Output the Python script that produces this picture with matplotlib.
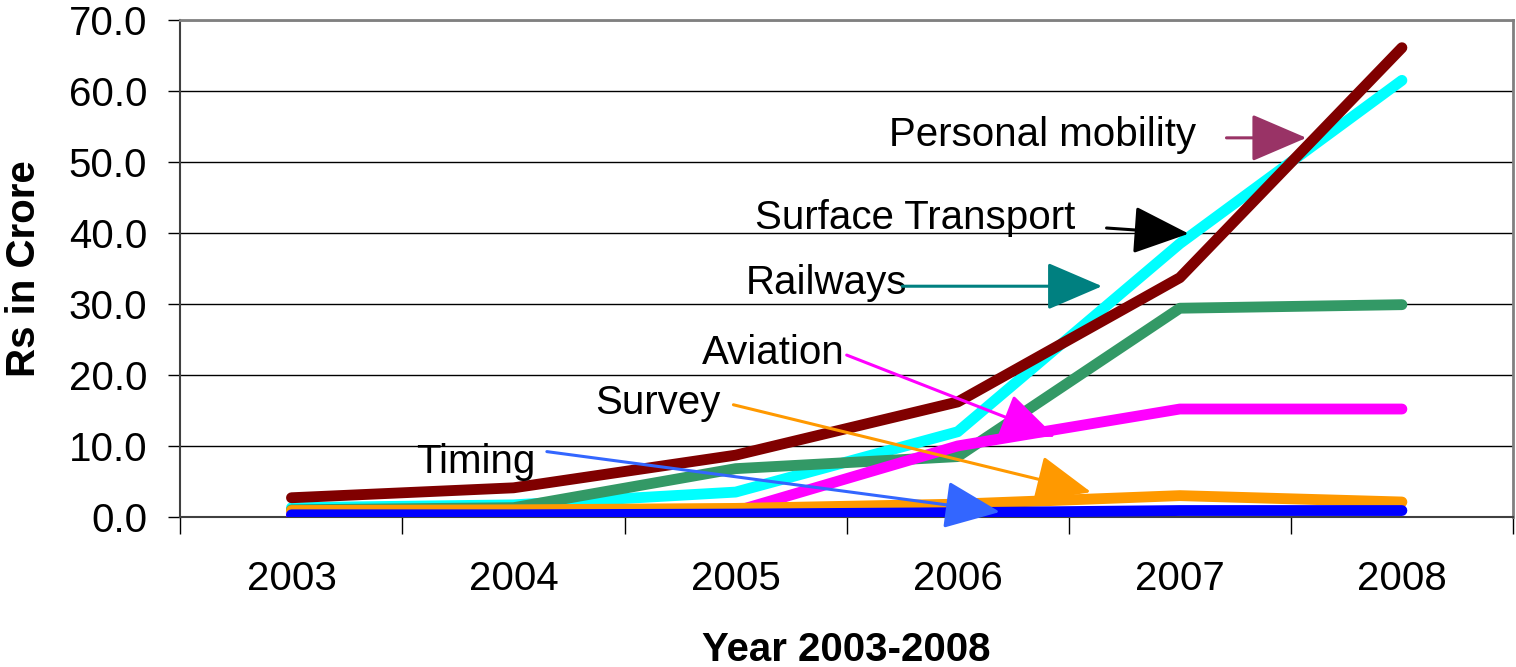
import numpy as np
import matplotlib.pyplot as plt

plt.rcParams['font.family'] = ['Liberation Sans', 'DejaVu Sans']

#--------------------- donnees ---------------------
years = ['2003', '2004', '2005', '2006', '2007', '2008']
timing = [0.3, 0.3, 0.4, 0.6, 0.9, 0.9]
survey = [0.9, 1.0, 1.2, 1.8, 3.0, 2.1]
aviation = [0.3, 0.5, 0.8, 10.0, 15.2, 15.2]
railways = [1.0, 1.3, 6.8, 8.5, 29.4, 29.9]
surface = [1.3, 1.7, 3.5, 12.0, 38.5, 61.5]
personal = [2.7, 4.1, 8.7, 16.2, 33.7, 66.1]

#--------------------- figure ---------------------
fig = plt.figure(figsize=(15.16, 6.67), dpi=100)
ax = fig.add_axes([0.119, 0.225, 0.879, 0.745])

x = np.arange(len(years))
lw = 7.8
ax.plot(x, surface, color='#00FFFF', lw=lw, solid_capstyle='round', zorder=3)
ax.plot(x, railways, color='#339966', lw=lw, solid_capstyle='round', zorder=3)
ax.plot(x, aviation, color='#FF00FF', lw=lw, solid_capstyle='round', zorder=3)
ax.plot(x, survey, color='#FF9900', lw=lw, solid_capstyle='round', zorder=4)
ax.plot(x, timing, color='#0000FF', lw=lw, solid_capstyle='round', zorder=5)
ax.plot(x, personal, color='#800000', lw=lw, solid_capstyle='round', zorder=6)

fs = 29
ax.set_xlim(-0.5, 5.5)
ax.set_ylim(0, 70)
ax.set_yticks(np.arange(0, 71, 10))
ax.set_yticklabels(['%.1f' % v for v in np.arange(0, 71, 10)], fontsize=fs)
ax.set_xticks(x)
ax.set_xticklabels(years, fontsize=fs)
ax.set_xticks(np.arange(-0.5, 5.6, 1), minor=True)
ax.tick_params(axis='x', which='major', length=0, pad=31)
ax.tick_params(axis='x', which='minor', length=12, width=1, direction='out')
ax.tick_params(axis='y', length=9, width=1, direction='out', pad=15)
ax.grid(axis='y', color='black', lw=1, zorder=1)

for s in ['top', 'right']:
    ax.spines[s].set_color('#808080')
    ax.spines[s].set_linewidth(2)
ax.spines['left'].set_color('#404040')
ax.spines['left'].set_linewidth(1.5)
ax.spines['bottom'].set_color('#404040')
ax.spines['bottom'].set_linewidth(1.5)

ax.set_ylabel('Rs in Crore', fontsize=fs, fontweight='bold', labelpad=18)
ax.set_xlabel('Year 2003-2008', fontsize=fs, fontweight='bold', labelpad=24)

#--------------------- annotations ---------------------
notes = [
    ('Personal mobility', (3.38, 53.8), (4.21, 53.4), (4.57, 53.4), '#993366'),
    ('Surface Transport', (2.81, 42.1), (3.67, 40.7), (4.04, 39.9), 'black'),
    ('Railways', (2.41, 33.0), (2.75, 32.5), (3.65, 32.5), '#008080'),
    ('Aviation', (2.17, 23.1), (2.50, 22.8), (3.44, 11.3), '#FF00FF'),
    ('Survey', (1.65, 16.1), (1.99, 15.8), (3.60, 3.5), '#FF9900'),
    ('Timing', (0.83, 7.7), (1.15, 9.2), (3.19, 0.7), '#3366FF'),
]
for txt, pos, start, tip, col in notes:
    ax.text(pos[0], pos[1], txt, fontsize=fs, ha='center', va='center', zorder=8)
    ax.annotate('', xy=tip, xytext=start,
                arrowprops=dict(arrowstyle='-|>,head_length=1.4,head_width=0.6',
                                color=col, lw=2.2, mutation_scale=25,
                                shrinkA=0, shrinkB=0), zorder=9)

plt.savefig('out.png', dpi=100)
